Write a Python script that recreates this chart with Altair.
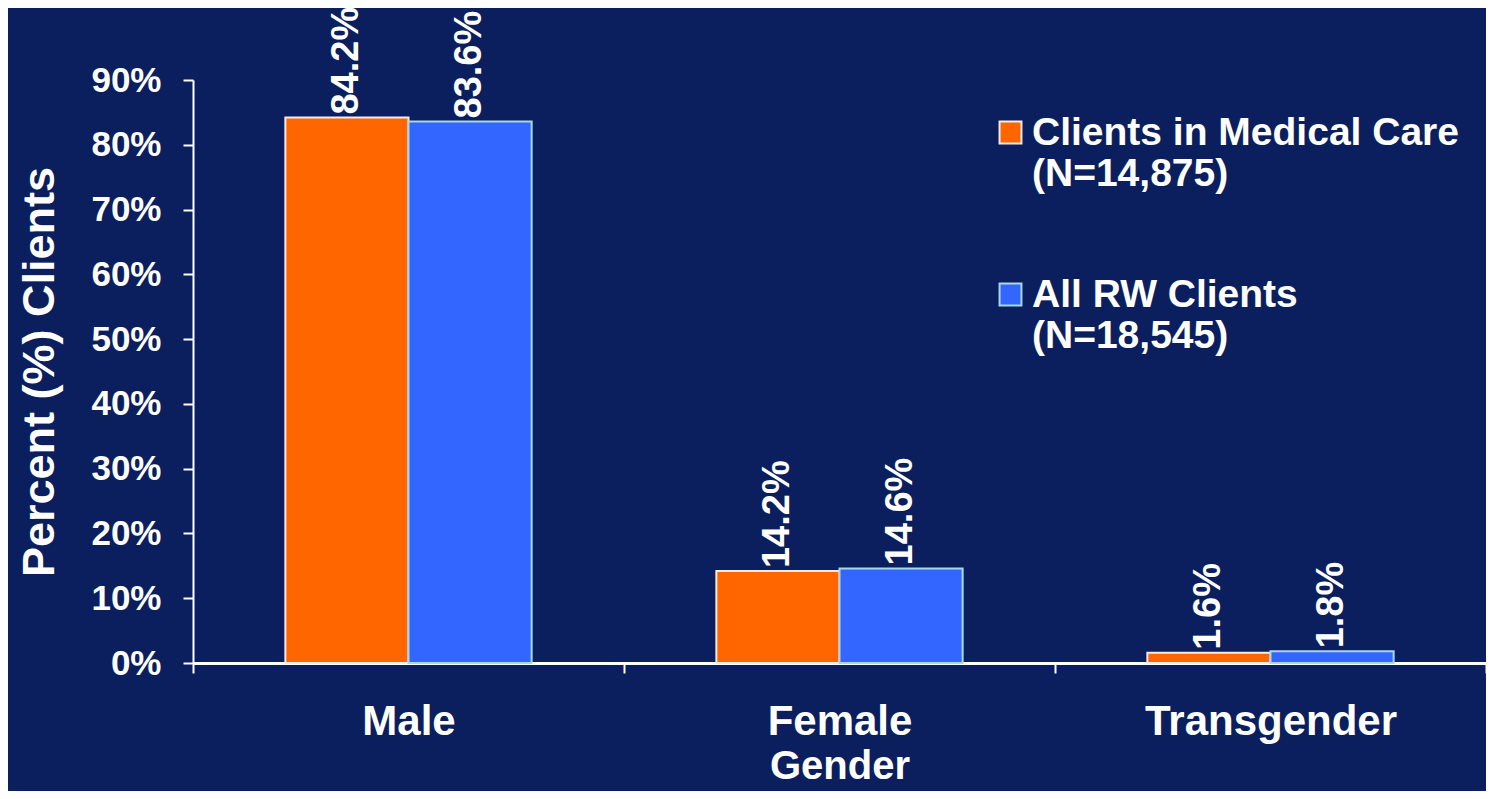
import altair as alt
import pandas as pd

genders = ["Male", "Female", "Transgender"]
series_names = ["Clients in Medical Care|(N=14,875)", "All RW Clients|(N=18,545)"]
medical_care = [0.842, 0.142, 0.016]
all_rw = [0.836, 0.146, 0.018]
y_ticks = [0.0, 0.1, 0.2, 0.3, 0.4, 0.5, 0.6, 0.7, 0.8, 0.9]

rows = []
for g, a, b in zip(genders, medical_care, all_rw):
    rows.append({"gender": g, "series": series_names[0], "value": a})
    rows.append({"gender": g, "series": series_names[1], "value": b})
df = pd.DataFrame(rows)

BG = "#0b1f5e"
FONT = "Liberation Sans"
fill_colors = ["#ff6600", "#3366ff"]
stroke_colors = ["#f4ece6", "#a8d8e8"]

x_enc = alt.X(
    "gender:N",
    sort=genders,
    title="Gender",
    scale=alt.Scale(paddingInner=0, paddingOuter=0),
    axis=alt.Axis(
        labelAngle=0,
        tickBand="extent",
        labelFontSize=42,
        labelPadding=28,
        labelLimit=400,
        tickSize=10,
        tickWidth=2,
        domainWidth=3,
        titleFontSize=40,
        titlePadding=4,
    ),
)
y_enc = alt.Y(
    "value:Q",
    scale=alt.Scale(domain=[0, 0.9]),
    title="Percent (%) Clients",
    axis=alt.Axis(
        values=y_ticks,
        format="%",
        grid=False,
        labelFontSize=35,
        labelPadding=22,
        tickSize=10,
        tickWidth=2,
        domainWidth=2,
        titleFontSize=45,
        titlePadding=28,
    ),
)
xoff = alt.XOffset(
    "series:N",
    sort=series_names,
    scale=alt.Scale(paddingInner=0, paddingOuter=0.75),
)

legend_kw = dict(
    title=None,
    orient="none",
    legendX=798,
    legendY=33,
    symbolType="square",
    symbolSize=480,
    symbolStrokeWidth=2,
    labelFontSize=39,
    labelOffset=2,
    labelBaseline="middle",
    rowPadding=81,
    labelExpr="split(datum.label, '|')",
    labelLimit=700,
)

bars = alt.Chart(df).mark_bar(strokeWidth=2).encode(
    x=x_enc,
    y=y_enc,
    xOffset=xoff,
    fill=alt.Fill(
        "series:N",
        sort=series_names,
        scale=alt.Scale(domain=series_names, range=fill_colors),
        legend=alt.Legend(**legend_kw),
    ),
    stroke=alt.Stroke(
        "series:N",
        sort=series_names,
        scale=alt.Scale(domain=series_names, range=stroke_colors),
        legend=alt.Legend(**legend_kw),
    ),
)

labels = alt.Chart(df).mark_text(
    angle=270,
    align="left",
    baseline="middle",
    dx=3,
    fontSize=38,
    fontWeight="bold",
    color="white",
).encode(
    x=alt.X("gender:N", sort=genders),
    y=alt.Y("value:Q"),
    xOffset=xoff,
    text=alt.Text("value:Q", format=".1%"),
)

chart = (
    alt.layer(bars, labels)
    .properties(
        width=1293,
        height=583,
        autosize=alt.AutoSizeParams(type="none"),
        padding={"left": 185, "top": 72, "right": 0, "bottom": 128},
    )
    .configure(background=BG, font=FONT)
    .configure_view(strokeOpacity=0)
    .configure_axis(
        domainColor="white",
        tickColor="white",
        labelColor="white",
        titleColor="white",
        labelFont=FONT,
        titleFont=FONT,
        labelFontWeight="bold",
        titleFontWeight="bold",
    )
    .configure_legend(
        labelColor="white",
        labelFont=FONT,
        labelFontWeight="bold",
    )
)

chart.save("out.html", embed_options={"renderer": "svg", "actions": False})
